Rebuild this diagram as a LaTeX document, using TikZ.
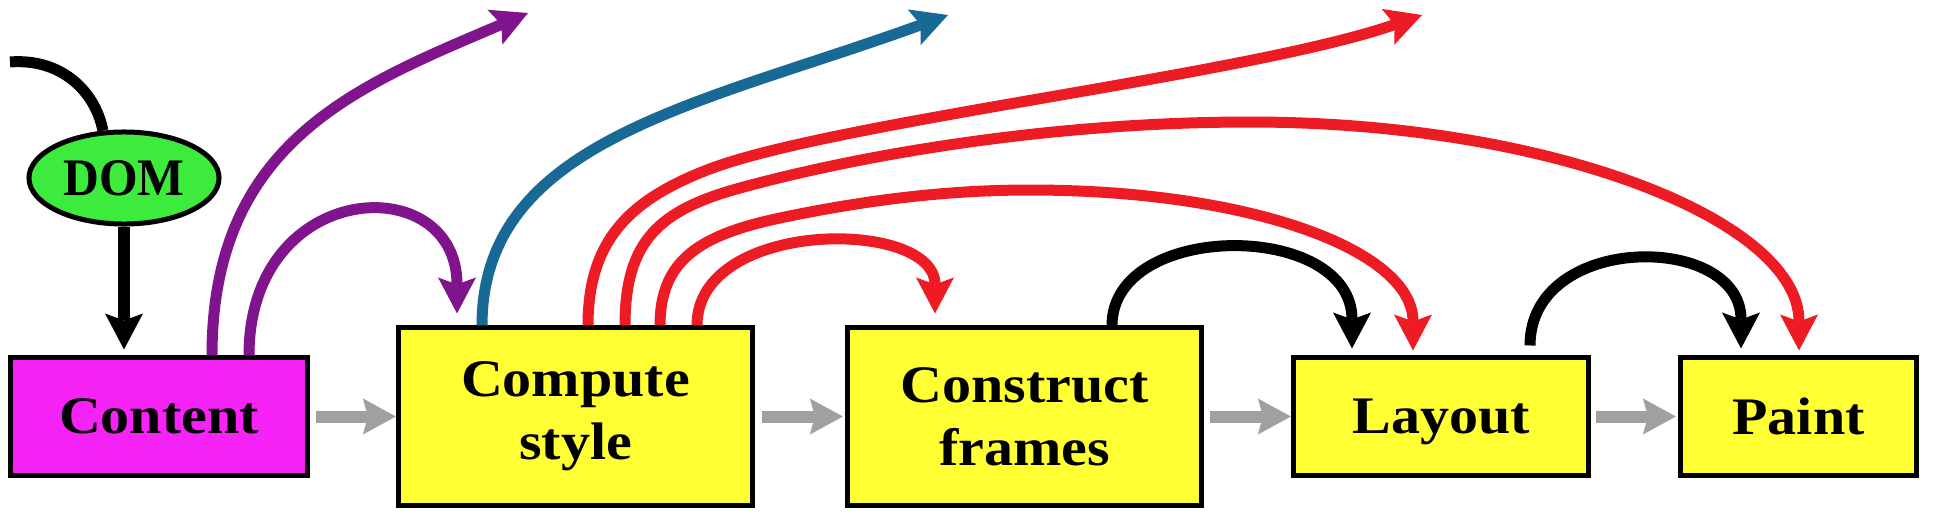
\documentclass[tikz,border=0pt]{standalone}
\usepackage{fontspec}
\setmainfont[FakeStretch=1.1]{Liberation Serif}
\newfontfamily\domfont[FakeStretch=0.94]{Liberation Serif}
\usetikzlibrary{arrows.meta,shapes.geometric,calc}
\definecolor{cmag}{RGB}{245,35,245}
\definecolor{cyel}{RGB}{255,255,51}
\definecolor{cgreen}{RGB}{60,235,60}
\definecolor{cpurple}{RGB}{128,20,140}
\definecolor{cblue}{RGB}{25,105,150}
\definecolor{cred}{RGB}{237,28,36}
\definecolor{cgray}{RGB}{160,160,160}
\begin{document}
\begin{tikzpicture}[x=0.01cm,y=-0.01cm,
  stage/.style={draw=black,line width=0.05cm,align=center,inner sep=0pt,
    font=\bfseries\fontsize{15pt}{18pt}\selectfont},
  boxsmall/.style={stage,minimum height=1.17cm,text depth=0pt},
  boxbig/.style={stage,minimum width=3.54cm,minimum height=1.77cm},
  link/.style={line width=0.11cm},
  flow/.style={link,-{Stealth[length=0.36cm,width=0.38cm,inset=0.07cm,line width=0pt]}},
  pipe/.style={cgray,line width=0.12cm,-{Stealth[length=0.33cm,width=0.36cm,inset=0.05cm,line width=0pt]}}]
\useasboundingbox (0,0) rectangle (1934,524);
% stages
\node[boxsmall,fill=cmag,minimum width=2.97cm] (content) at (159,416.5) {Content};
\node[boxbig,fill=cyel] (compute) at (575.5,416.5) {Compute\\style};
\node[boxbig,fill=cyel] (construct) at (1024.5,416.5) {Construct\\frames};
\node[boxsmall,fill=cyel,minimum width=2.95cm] (layout) at (1441,416.5) {Layout};
\node[boxsmall,fill=cyel,minimum width=2.36cm] (paint) at (1798.5,416.5) {Paint};
\node[ellipse,draw=black,line width=0.05cm,fill=cgreen,minimum width=1.90cm,
  minimum height=0.92cm,inner sep=0pt,
  font=\domfont\bfseries\fontsize{15pt}{18pt}\selectfont] (dom) at (124,178) {DOM};
% free ends
\coordinate (domin) at (10,62);
\coordinate (purpleend) at (528,13);
\coordinate (blueend) at (948,15);
\coordinate (redend) at (1422,15);
% pipeline arrows
\draw[pipe,shorten <=0.06cm] (content.east) -- (compute.west);
\draw[pipe,shorten <=0.07cm,shorten >=0.02cm] (compute.east) -- (construct.west);
\draw[pipe,shorten <=0.06cm] (construct.east) -- (layout.west);
\draw[pipe,shorten <=0.05cm,shorten >=0.02cm] (layout.east) -- (paint.west);
% DOM
\draw[link] (domin) .. controls (60,58) and (95,90) .. (dom.114);
\draw[flow,shorten >=0.06cm] (dom.south) -- (dom.south |- content.north);
% purple
\draw[flow,cpurple] ($(content.north)+(53,0)$) .. controls (212,140) and (360,85) .. (purpleend);
\draw[flow,cpurple,shorten >=0.12cm] ($(content.north)+(90,0)$) .. controls (249,178) and (457,168) .. ($(compute.north)+(-118.5,0)$);
% blue
\draw[flow,cblue] ($(compute.north)+(-93.5,0)$) .. controls (482,140) and (700,105) .. (blueend);
% red
\draw[flow,cred] ($(compute.north)+(12.5,0)$) .. controls (588,240) and (630,200) .. (707,170)
  .. controls (830,122) and (1250,75) .. (redend);
\draw[flow,cred,shorten >=0.05cm] ($(compute.north)+(49.5,0)$) .. controls (625,240) and (660,210) .. (740,188)
  .. controls (860,155) and (1050,122) .. (1250,122)
  .. controls (1550,122) and (1799,220) .. ($(paint.north)+(0.5,0)$);
\draw[flow,cred,shorten >=0.05cm] ($(compute.north)+(84.5,0)$) .. controls (660,260) and (700,235) .. (780,218)
  .. controls (880,197) and (960,190) .. (1030,190)
  .. controls (1250,190) and (1413,250) .. ($(layout.north)+(-28,0)$);
\draw[flow,cred,shorten >=0.12cm] ($(compute.north)+(121.5,0)$) .. controls (697,218) and (935,218) .. ($(construct.north)+(-89.5,0)$);
% black
\draw[flow,shorten >=0.07cm] ($(construct.north)+(87.5,0)$) .. controls (1112,220) and (1352,220) .. ($(layout.north)+(-89,0)$);
\draw[flow,shorten <=0.1cm,shorten >=0.07cm] ($(layout.north)+(89,0)$) .. controls (1530,232) and (1741,232) .. ($(paint.north)+(-57.5,0)$);
\end{tikzpicture}
\end{document}
